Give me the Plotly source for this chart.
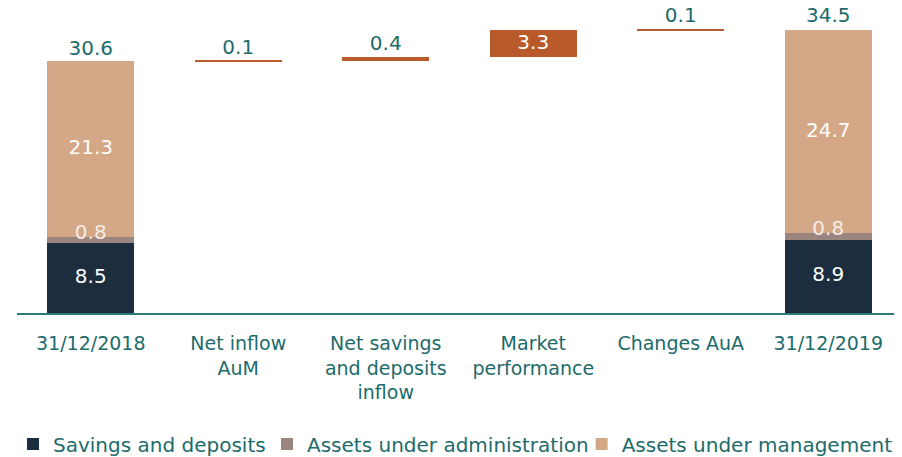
import plotly.graph_objects as go

# ── DATA ──────────────────────────────────────
CATEGORIES = ["31/12/2018", "Net inflow<br>AuM", "Net savings<br>and deposits<br>inflow",
              "Market<br>performance", "Changes AuA", "31/12/2019"]

SAVINGS = [8.5, None, None, None, None, 8.9]
AUA     = [0.8, None, None, None, None, 0.8]
AUM     = [21.3, None, None, None, None, 24.7]
TOTALS  = [30.6, None, None, None, None, 34.5]
DELTAS  = [None, 0.1, 0.4, 3.3, 0.1, None]

# ── STYLE ─────────────────────────────────────
FONT     = "DejaVu Sans"
TEAL     = "#1d6b6b"
C_SAV    = "#1c2e3d"
C_AUA    = "#9a867e"
C_AUM    = "#d4a886"
C_DELTA  = "#b85a2a"
LABEL_PAD = 1.45   # data units above a bar top for outside labels

# running base for the floating bars
bases = []
running = TOTALS[0]
for d in DELTAS:
    if d is None:
        bases.append(None)
    else:
        bases.append(running)
        running += d

fig = go.Figure()

fig.add_trace(go.Bar(x=CATEGORIES, y=bases,
                     marker=dict(color="rgba(0,0,0,0)", line_width=0),
                     showlegend=False, hoverinfo="skip"))
fig.add_trace(go.Bar(x=CATEGORIES, y=DELTAS, marker=dict(color=C_DELTA, line_width=0),
                     showlegend=False))
fig.add_trace(go.Bar(x=CATEGORIES, y=SAVINGS, name="Savings and deposits",
                     marker=dict(color=C_SAV, line_width=0), legend="legend"))
fig.add_trace(go.Bar(x=CATEGORIES, y=AUA, name="Assets under administration",
                     marker=dict(color=C_AUA, line_width=0), legend="legend2"))
fig.add_trace(go.Bar(x=CATEGORIES, y=AUM, name="Assets under management",
                     marker=dict(color=C_AUM, line_width=0), legend="legend3"))

# ── LABELS ────────────────────────────────────
def text_trace(xs, ys, texts, color):
    fig.add_trace(go.Scatter(x=xs, y=ys, text=texts, mode="text",
                             textposition="middle center", cliponaxis=False,
                             textfont=dict(family=FONT, size=20, color=color),
                             showlegend=False, hoverinfo="skip"))

ends = [0, 5]
# segments inside the total columns
text_trace([CATEGORIES[i] for i in ends], [SAVINGS[i] / 2 for i in ends],
           [f"{SAVINGS[i]}" for i in ends], "white")
text_trace([CATEGORIES[i] for i in ends], [SAVINGS[i] + AUA[i] + 0.35 for i in ends],
           [f"{AUA[i]}" for i in ends], "#f4ece6")
text_trace([CATEGORIES[i] for i in ends],
           [SAVINGS[i] + AUA[i] + AUM[i] / 2 for i in ends],
           [f"{AUM[i]}" for i in ends], "white")
text_trace([CATEGORIES[i] for i in ends], [TOTALS[i] + LABEL_PAD for i in ends],
           [f"{TOTALS[i]}" for i in ends], TEAL)

# floating bar labels
for i, d in enumerate(DELTAS):
    if d is None:
        continue
    if d > 1:
        text_trace([CATEGORIES[i]], [bases[i] + d / 2], [f"{d}"], "white")
    else:
        text_trace([CATEGORIES[i]], [bases[i] + d + LABEL_PAD], [f"{d}"], TEAL)

# ── LAYOUT ────────────────────────────────────
# page body has an 8px margin, so the figure is sized to the window minus that
leg = dict(orientation="h", y=-0.4295, yanchor="middle", xanchor="left",
           font=dict(family=FONT, size=20, color=TEAL), itemwidth=30,
           bgcolor="rgba(0,0,0,0)")

fig.update_layout(
    barmode="stack",
    bargap=0.41,
    width=894, height=449,
    margin=dict(l=9, r=0, t=0, b=144, autoexpand=False),
    paper_bgcolor="white",
    plot_bgcolor="white",
    font=dict(family=FONT, size=19, color=TEAL),
    xaxis=dict(showline=True, linecolor="#2b7d7a", linewidth=2,
               ticks="outside", ticklen=12, tickcolor="rgba(0,0,0,0)",
               tickfont=dict(family=FONT, size=19, color=TEAL),
               showgrid=False),
    yaxis=dict(visible=False, range=[0, 37.1]),
    legend=dict(leg, x=-0.0045),
    legend2=dict(leg, x=0.2825),
    legend3=dict(leg, x=0.638),
)

fig.write_html("out.html")
